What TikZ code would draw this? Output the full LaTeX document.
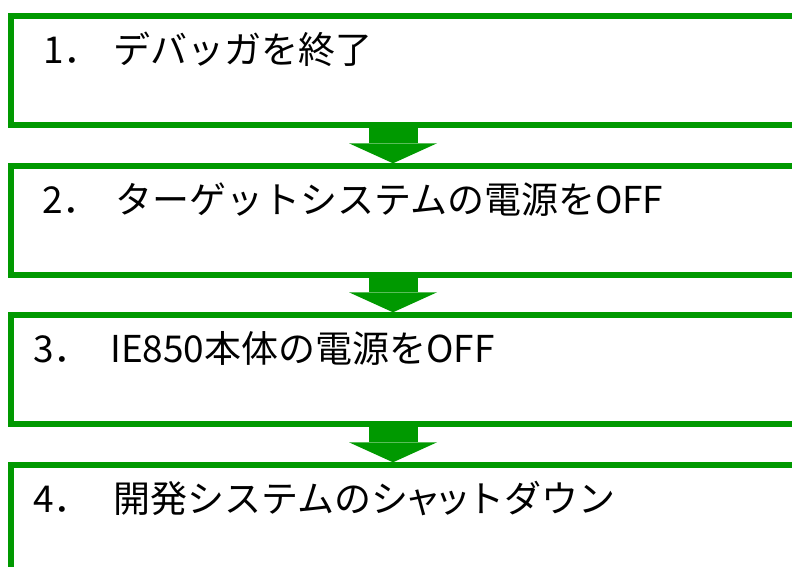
\documentclass[tikz,border=0pt]{standalone}
\usepackage{fontspec}
\newfontfamily\jp{Noto Sans CJK JP}
\newfontfamily\jpp[RawFeature=+palt]{Noto Sans CJK JP}
\usetikzlibrary{arrows.meta}
\definecolor{flowgreen}{RGB}{0,153,0}
\begin{document}
\begin{tikzpicture}[x=1pt,y=-1pt,
  stepbox/.style={draw=flowgreen, line width=6pt, minimum width=820pt, minimum height=108.4pt, anchor=north west, inner sep=0pt},
  steplabel/.style={anchor=base west, inner sep=0pt, font=\jp\fontsize{37}{44}\selectfont},
  flow/.style={draw=flowgreen, line width=49pt, -{Triangle[width=88pt,length=20pt,line width=0pt]}}]
\useasboundingbox (0,0) rectangle (792,567);
\begin{scope}
\clip (0,0) rectangle (792,567);
\node[stepbox] (b1) at (8.3,13.3) {};
\node[stepbox] (b2) at (8.3,163.3) {};
\node[stepbox] (b3) at (8.3,312.3) {};
\node[stepbox] (b4) at (8.3,462.3) {};
\coordinate (ax) at (393,0);
\draw[flow] (b1.south -| ax) -- (b2.north -| ax);
\draw[flow] (b2.south -| ax) -- (b3.north -| ax);
\draw[flow] (b3.south -| ax) -- (b4.north -| ax);
\node[steplabel] (t1) at (43,63.3) {\makebox[70pt][l]{1．}デバッガを終了};
\node[steplabel] (t2) at (42,213.3) {\makebox[73pt][l]{2．}ターゲットシステムの電源をOFF};
\node[steplabel] (t3) at (33,362.3) {\makebox[77pt][l]{3．}IE850本体の電源をOFF};
\node[steplabel] (t4) at (33,512.3) {\makebox[80pt][l]{4．}開発システムのシ{\jpp ャッ}トダウン};
\end{scope}
\end{tikzpicture}
\end{document}
